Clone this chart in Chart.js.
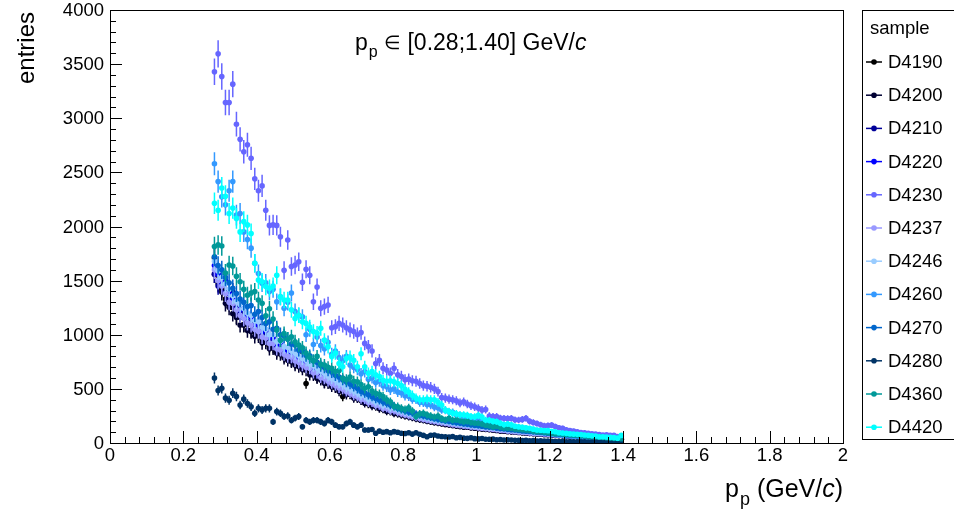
<!DOCTYPE html>
<html>
<head>
<meta charset="utf-8">
<script src="https://cdn.jsdelivr.net/npm/chart.js@4.4.1/dist/chart.umd.min.js"></script>
<style>
html, body { margin: 0; padding: 0; background: #fff; }
canvas { display: block; }
</style>
</head>
<body>
<canvas id="c" width="954" height="513"></canvas>
<script>
// binning: 112 bins of 0.01 between 0.28 and 1.40
const binLow = 0.28;
const binWidth = 0.01;
const nBins = 112;

const samples = ['D4190', 'D4200', 'D4210', 'D4220', 'D4230', 'D4237',
                 'D4246', 'D4260', 'D4270', 'D4280', 'D4360', 'D4420'];
const sampleColors = ['#000000', '#000033', '#000099', '#0000ff', '#6666ff', '#9999ff',
                      '#99ccff', '#3399ff', '#0066cc', '#003366', '#009999', '#00ffff'];

const xTickValues = [0, 0.2, 0.4, 0.6, 0.8, 1, 1.2, 1.4, 1.6, 1.8, 2];
const xTickLabels = ['0', '0.2', '0.4', '0.6', '0.8', '1', '1.2', '1.4', '1.6', '1.8', '2'];
const yTickValues = [0, 500, 1000, 1500, 2000, 2500, 3000, 3500, 4000];
const yTickLabels = ['0', '500', '1000', '1500', '2000', '2500', '3000', '3500', '4000'];

const d4190 = [
  1710,1550,1420,1330,1290,1250,1170,1160,1090,1100,
  1040,1020,1010,960,950,900,890,850,850,800,
  790,760,735,830,705,550,665,640,600,605,
  560,565,540,515,505,430,475,455,425,420,
  398,392,360,362,338,336,312,312,290,290,
  276,268,252,250,238,234,220,217,206,203,
  193,190,182,180,170,169,160,159,151,151,
  143,142,136,135,128,127,121,120,113,113,
  107,107,101,101,95,95,89,89,84,85,
  79,79,74,74,69,70,64,64,59,61,
  55,56,51,52,47,48,44,44,40,40,
  36,35];
const d4200 = [
  1560,1470,1395,1290,1255,1195,1160,1090,1095,1040,
  1030,985,990,925,930,870,875,830,820,785,
  765,750,720,705,680,672,630,625,598,582,
  552,548,520,510,478,478,445,448,415,412,
  392,368,366,342,338,316,314,292,294,272,
  268,258,250,240,233,224,216,210,202,196,
  190,184,178,172,168,162,158,152,148,145,
  141,137,133,130,126,122,119,116,112,109,
  106,103,100,97,94,91,89,86,83,81,
  78,76,73,71,69,66,64,62,59,57,
  55,53,51,49,47,45,43,42,40,38,
  36,34];
const d4210 = [
  1560,1450,1540,1390,1330,1400,1250,1200,1230,1120,
  1110,1080,1090,1010,1000,970,930,900,880,860,
  830,800,805,750,748,735,690,675,660,620,
  620,585,565,550,515,515,480,478,448,446,
  425,398,398,372,368,345,342,320,318,300,
  291,281,270,262,251,244,235,227,219,213,
  206,200,193,188,182,177,171,166,162,158,
  153,150,145,141,137,134,130,126,122,119,
  115,112,109,106,102,99,96,94,91,88,
  86,83,80,78,75,73,70,68,65,63,
  61,58,56,54,52,50,47,45,43,41,
  39,37];
const d4220 = [
  1640,1560,1470,1500,1380,1320,1310,1230,1240,1180,
  1160,1090,1120,1030,1045,980,970,910,925,870,
  855,830,805,790,745,750,700,700,655,660,
  610,615,575,570,530,530,495,490,460,455,
  425,425,395,392,368,366,340,338,315,318,
  298,287,277,266,258,248,240,232,225,217,
  211,203,198,191,187,180,175,171,165,161,
  157,152,148,144,140,136,132,128,124,121,
  117,114,111,107,104,101,98,95,92,90,
  87,84,81,79,76,74,71,68,66,64,
  61,59,57,55,52,50,48,46,44,42,
  40,37];
const d4230 = [
  3430,3595,3385,3145,3145,3315,2945,2805,2690,2755,
  2630,2440,2330,2375,2150,2010,2015,2010,1905,1595,
  1875,1630,1645,1675,1485,1605,1550,1305,1440,1245,
  1260,1275,1065,1075,1105,1090,1065,1045,1030,1000,
  1020,920,890,850,735,765,690,675,645,690,
  630,615,585,590,575,570,550,530,525,515,
  500,475,420,415,405,400,390,370,380,360,
  345,335,320,305,310,250,245,245,230,228,
  225,228,215,212,218,228,200,190,180,168,
  160,162,165,152,140,135,122,115,110,104,
  96,95,90,84,82,78,74,75,72,70,
  60,58];
const d4237 = [
  1600,1500,1450,1380,1300,1290,1230,1180,1150,1110,
  1090,1050,1030,980,970,920,920,870,860,820,
  800,795,760,745,720,700,690,650,648,605,
  595,570,550,532,510,498,475,460,440,428,
  405,402,374,372,348,346,322,322,298,300,
  283,272,262,253,245,236,228,220,213,206,
  200,193,188,182,177,171,166,162,157,153,
  148,145,141,137,133,129,126,122,118,115,
  111,108,105,102,99,96,93,90,88,85,
  83,80,77,75,72,70,67,65,63,61,
  58,56,54,52,49,48,46,44,42,40,
  38,35];
const d4246 = [
  1680,1590,1530,1470,1420,1360,1310,1280,1240,1200,
  1180,1130,1120,1070,1050,1000,1000,940,940,890,
  885,850,830,805,780,765,730,715,690,665,
  645,620,595,580,555,540,515,500,480,465,
  440,436,405,404,378,376,348,350,325,326,
  306,295,283,274,265,255,246,238,231,224,
  216,209,203,197,192,185,180,175,170,166,
  161,157,152,148,144,140,136,132,128,125,
  121,117,114,110,107,104,101,98,95,93,
  90,87,83,81,78,76,73,70,68,66,
  63,61,59,57,54,52,49,47,45,43,
  41,38];
const d4260 = [
  2580,2415,2275,2200,2330,2415,2105,2120,1950,1880,
  1800,1660,1565,1475,1480,1400,1420,1305,1350,1245,
  1300,1385,1215,1180,1165,1000,1050,910,980,900,
  870,930,820,850,790,760,800,720,700,680,
  640,660,590,600,560,570,530,520,490,500,
  470,462,436,432,405,402,376,372,356,351,
  332,326,306,303,286,283,262,258,243,241,
  226,223,207,204,192,188,175,172,160,157,
  148,145,133,132,123,120,111,109,101,99,
  92,90,83,81,75,73,67,66,60,59,
  54,53,48,47,43,42,38,37,34,33,
  31,29];
const d4270 = [
  1720,1640,1600,1530,1480,1430,1380,1330,1300,1260,
  1270,1190,1215,1160,1105,1120,1050,1060,1000,990,
  960,915,905,860,850,810,805,760,745,715,
  700,670,655,625,610,585,565,545,525,505,
  478,462,445,428,410,398,380,368,352,342,
  321,309,297,287,278,268,258,250,242,235,
  227,219,213,206,201,194,189,184,178,174,
  169,164,160,155,151,147,143,138,134,131,
  126,123,120,116,112,109,106,103,99,97,
  94,91,87,85,82,80,77,74,71,69,
  66,64,62,59,56,54,52,50,48,45,
  43,40];
const d4280 = [
  600,485,505,415,395,460,430,350,405,365,
  335,275,320,305,320,320,195,290,275,245,
  250,210,230,245,150,210,195,210,210,195,
  180,210,195,165,150,150,180,195,165,150,
  165,120,120,125,90,110,100,105,95,105,
  100,90,88,95,82,95,80,70,58,72,
  74,65,60,58,55,60,48,52,45,43,
  48,40,38,42,35,34,36,30,32,28,
  30,28,25,26,22,24,20,22,19,21,
  17,18,15,16,14,15,12,13,11,12,
  10,11,9,10,12,8,9,7,6,5,
  4,3];
const d4360 = [
  1815,1830,1820,1570,1645,1635,1540,1490,1420,1365,
  1385,1400,1320,1290,1175,1240,1145,1045,950,1010,
  960,980,935,905,880,830,790,760,800,730,
  720,700,690,660,670,600,585,610,570,565,
  540,505,520,480,460,450,430,400,380,340,
  335,320,310,325,295,245,270,275,260,250,
  240,250,225,215,228,210,215,205,197,200,
  190,185,182,175,165,160,151,155,145,140,
  138,136,130,125,122,120,115,110,105,104,
  100,95,90,83,85,80,78,76,74,70,
  66,64,60,58,56,54,52,48,46,43,
  42,40];
const d4420 = [
  2215,2150,2355,2280,2120,2170,2075,1950,2045,2015,
  1935,1660,1505,1490,1445,1430,1450,1550,1350,1320,
  1320,1230,1150,1180,1120,1105,1070,1030,1015,1060,
  950,890,800,830,735,705,780,795,765,705,
  825,705,645,660,630,615,580,570,575,565,
  550,530,495,470,440,415,400,400,405,400,
  400,375,350,305,290,275,270,260,260,255,
  245,243,255,240,212,210,200,197,182,170,
  175,168,155,150,145,140,136,128,120,118,
  116,114,108,104,95,92,89,84,82,80,
  78,74,72,66,64,58,58,55,52,50,
  45,70];

const seriesValues = [d4190, d4200, d4210, d4220, d4230, d4237,
                      d4246, d4260, d4270, d4280, d4360, d4420];

const binCenters = [];
for (let i = 0; i < nBins; i++) binCenters.push(+(binLow + (i + 0.5) * binWidth).toFixed(3));

const errScale = 2.1; // error bar half length = errScale * sqrt(N)

const FONT = '"Liberation Sans", Arial, Helvetica, sans-serif';

// draws "p" with subscript "p", returns x after it
function drawPp(ctx, x, y, size) {
  ctx.font = size + 'px ' + FONT;
  ctx.fillText('p', x, y);
  x += ctx.measureText('p').width;
  const sub = Math.round(size * 0.7);
  ctx.font = sub + 'px ' + FONT;
  ctx.fillText('p', x + 1, y + size * 0.3);
  return x + 1 + ctx.measureText('p').width;
}

const rootStyle = {
  id: 'rootStyle',
  beforeDatasetDraw(chart, args) {
    const ctx = chart.ctx, xs = chart.scales.x, ys = chart.scales.y;
    const k = args.index;
    const vals = seriesValues[k];
    ctx.save();
    ctx.strokeStyle = sampleColors[k];
    ctx.lineWidth = 1.5;
    ctx.beginPath();
    vals.forEach((v, i) => {
      const e = errScale * Math.sqrt(v);
      const px = xs.getPixelForValue(binCenters[i]);
      ctx.moveTo(px, ys.getPixelForValue(v + e));
      ctx.lineTo(px, ys.getPixelForValue(Math.max(v - e, 0)));
    });
    ctx.stroke();
    ctx.restore();
  },
  afterDraw(chart) {
    const ctx = chart.ctx, xs = chart.scales.x, ys = chart.scales.y;
    const a = chart.chartArea;
    ctx.save();
    ctx.strokeStyle = '#000';
    ctx.fillStyle = '#000';
    ctx.lineWidth = 1;

    // frame
    ctx.strokeRect(Math.round(a.left) + 0.5, Math.round(a.top) + 0.5,
                   Math.round(a.right - a.left), Math.round(a.bottom - a.top));

    // ticks (inside the frame)
    ctx.beginPath();
    for (let i = 0; i <= 50; i++) {
      const px = Math.round(xs.getPixelForValue(i * 0.04)) + 0.5;
      const len = i % 5 === 0 ? 12 : 6;
      ctx.moveTo(px, a.bottom);
      ctx.lineTo(px, a.bottom - len);
    }
    for (let i = 0; i <= 40; i++) {
      const py = Math.round(ys.getPixelForValue(i * 100)) + 0.5;
      const len = i % 5 === 0 ? 12 : 6;
      ctx.moveTo(a.left, py);
      ctx.lineTo(a.left + len, py);
    }
    ctx.stroke();

    // tick labels
    ctx.font = '18.5px ' + FONT;
    ctx.textAlign = 'center';
    ctx.textBaseline = 'top';
    xTickValues.forEach((v, i) => {
      ctx.fillText(xTickLabels[i], xs.getPixelForValue(v), a.bottom + 4);
    });
    ctx.textAlign = 'right';
    ctx.textBaseline = 'middle';
    yTickValues.forEach((v, i) => {
      ctx.fillText(yTickLabels[i], a.left - 6, ys.getPixelForValue(v) + 1);
    });

    // axis titles
    ctx.textBaseline = 'alphabetic';
    ctx.textAlign = 'left';
    ctx.save();
    ctx.translate(34, 12);
    ctx.rotate(-Math.PI / 2);
    ctx.textAlign = 'right';
    ctx.font = '24px ' + FONT;
    ctx.fillText('entries', 0, 0);
    ctx.restore();

    const ts = 25;
    ctx.font = ts + 'px ' + FONT;
    const wP = ctx.measureText('p').width;
    const wOpen = ctx.measureText(' (GeV/').width;
    const wClose = ctx.measureText(')').width;
    ctx.font = 'italic ' + ts + 'px ' + FONT;
    const wC = ctx.measureText('c').width;
    ctx.font = Math.round(ts * 0.7) + 'px ' + FONT;
    const wSub = ctx.measureText('p').width + 1;
    let x = a.right - (wP + wSub + wOpen + wC + wClose);
    const yb = 497;
    x = drawPp(ctx, x, yb, ts);
    ctx.font = ts + 'px ' + FONT;
    ctx.fillText(' (GeV/', x, yb);
    x += wOpen;
    ctx.font = 'italic ' + ts + 'px ' + FONT;
    ctx.fillText('c', x, yb);
    x += wC;
    ctx.font = ts + 'px ' + FONT;
    ctx.fillText(')', x, yb);

    // range annotation
    x = 355;
    const yt = 50;
    x = drawPp(ctx, x, yt, 23);
    ctx.font = '23px ' + FONT;
    ctx.fillText(' ', x, yt);
    x += ctx.measureText(' ').width;
    ctx.font = '19px ' + FONT;
    ctx.fillText('\u2208', x, yt - 1);
    x += ctx.measureText('\u2208').width;
    ctx.font = '23px ' + FONT;
    const mid = ' [0.28;1.40] GeV/';
    ctx.fillText(mid, x, yt);
    x += ctx.measureText(mid).width;
    ctx.font = 'italic 23px ' + FONT;
    ctx.fillText('c', x, yt);

    // legend
    ctx.lineWidth = 1;
    ctx.strokeRect(862.5, 10.5, 120, 429);
    ctx.font = '18.5px ' + FONT;
    ctx.textBaseline = 'middle';
    ctx.fillText('sample', 870, 29);
    samples.forEach((name, i) => {
      const y = 62 + i * 33.2;
      ctx.strokeStyle = sampleColors[i];
      ctx.fillStyle = sampleColors[i];
      ctx.lineWidth = 1.5;
      ctx.beginPath();
      ctx.moveTo(866, y);
      ctx.lineTo(882, y);
      ctx.stroke();
      ctx.beginPath();
      ctx.arc(874, y, 2.8, 0, Math.PI * 2);
      ctx.fill();
      ctx.fillStyle = '#000';
      ctx.fillText(name, 888, y + 1);
    });
    ctx.restore();
  }
};

const datasets = samples.map((name, k) => ({
  label: name,
  data: seriesValues[k].map((v, i) => ({ x: binCenters[i], y: v })),
  pointRadius: 2.8,
  pointBorderWidth: 0,
  pointBackgroundColor: sampleColors[k],
  pointBorderColor: sampleColors[k],
  showLine: false,
  order: samples.length - k
}));

new Chart(document.getElementById('c').getContext('2d'), {
  type: 'scatter',
  data: { datasets: datasets },
  options: {
    responsive: false,
    animation: false,
    devicePixelRatio: 1,
    layout: { padding: { left: 110, right: 111, top: 10, bottom: 70 } },
    plugins: { legend: { display: false }, tooltip: { enabled: false } },
    scales: {
      x: { type: 'linear', min: 0, max: 2, display: false },
      y: { type: 'linear', min: 0, max: 4000, display: false }
    }
  },
  plugins: [rootStyle]
});
</script>
</body>
</html>
